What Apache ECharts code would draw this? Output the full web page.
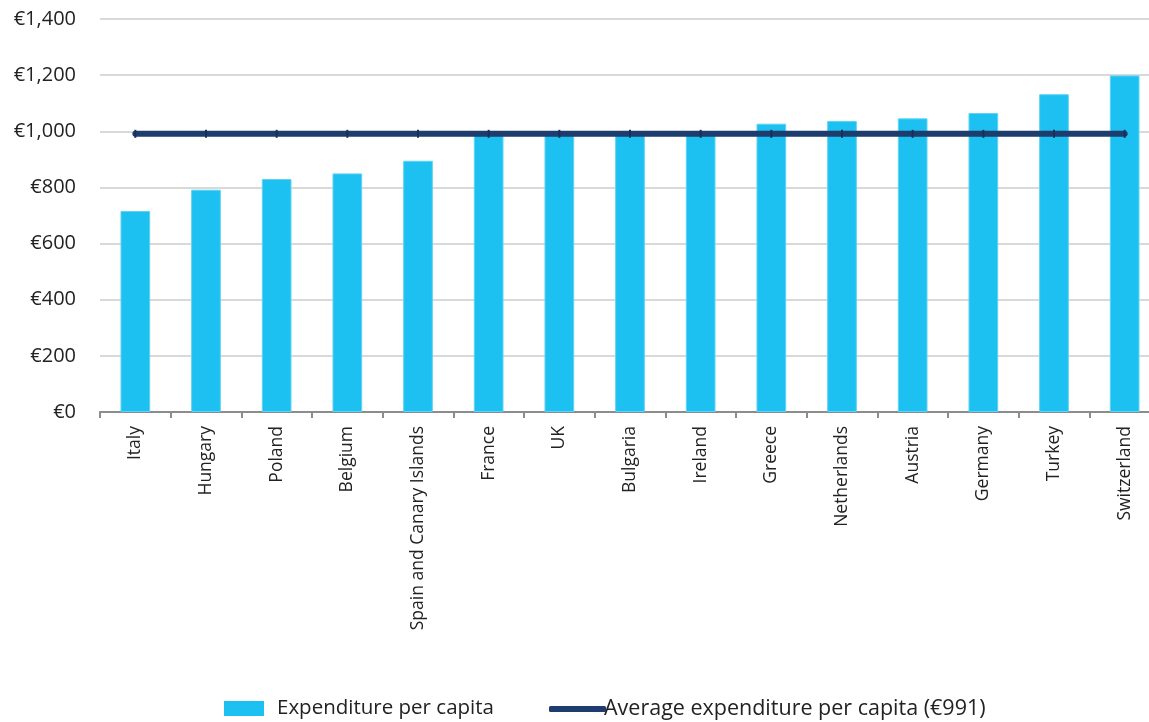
<!DOCTYPE html>
<html><head><meta charset="utf-8">
<script src="https://cdn.jsdelivr.net/npm/echarts@6/dist/echarts.min.js"></script>
<style>html,body{margin:0;padding:0;background:#fff}#c{width:1149px;height:722px}</style>
</head><body><div id="c"></div>
<script>
const categories = ["Italy","Hungary","Poland","Belgium","Spain and Canary Islands","France","UK","Bulgaria","Ireland","Greece","Netherlands","Austria","Germany","Turkey","Switzerland"];
const expenditure = [716,792,830,850,895,995,993,996,990,1027,1037,1046,1065,1132,1199];
const averageValue = 991;
const average = categories.map(() => averageValue);
const FONT = "'Open Sans', 'Noto Sans', sans-serif";
const BAR = '#1CC1F1', LINE = '#1E3C6E';
const chart = echarts.init(document.getElementById('c'));
chart.setOption({
  animation:false,
  grid:{left:100,width:1060,top:19,height:393,containLabel:false,outerBoundsMode:'none'},
  legend:[
    {left:219,top:693,icon:'rect',itemWidth:40,itemHeight:15,
     textStyle:{fontFamily:FONT,fontSize:20.5,color:'#222',padding:[0,0,0,8]},
     data:[{name:'Expenditure per capita',itemStyle:{color:BAR,borderWidth:0}}]},
    {left:544,top:693,icon:'roundRect',itemWidth:57,itemHeight:6,
     textStyle:{fontFamily:FONT,fontSize:21.5,color:'#222',padding:[0,0,0,-7]},
     data:[{name:'Average expenditure per capita (€991)',icon:'roundRect',itemStyle:{color:LINE}}]}
  ],
  xAxis:{
    type:'category',data:categories,boundaryGap:true,
    axisLine:{lineStyle:{color:'#8c8c8c',width:2}},
    axisTick:{show:true,length:6,lineStyle:{color:'#8c8c8c',width:2}},
    axisLabel:{rotate:90,fontFamily:FONT,fontSize:17.5,color:'#222',margin:14,interval:0}
  },
  yAxis:{
    type:'value',min:0,max:1400,interval:200,
    axisLine:{show:false},axisTick:{show:false},
    splitLine:{lineStyle:{color:'#d9d9d9',width:2}},
    axisLabel:{fontFamily:FONT,fontSize:20,color:'#222',margin:24,
      formatter:v=>'€'+v.toLocaleString('en-US')}
  },
  series:[
    {name:'Expenditure per capita',type:'bar',data:expenditure,barWidth:'42%',
     itemStyle:{color:BAR,borderColor:'#5fd3f5',borderWidth:1}},
    {name:'Average expenditure per capita (€991)',type:'line',data:average,
     symbol:'rect',symbolSize:[2,8],
     itemStyle:{color:'#16305a'},
     lineStyle:{color:LINE,width:6,cap:'round'},z:5}
  ]
});
</script></body></html>
